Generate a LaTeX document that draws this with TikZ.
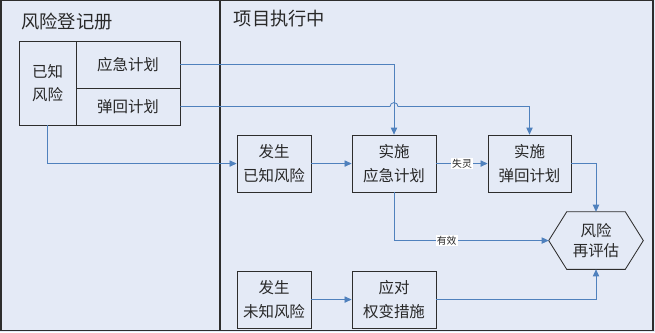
\documentclass[tikz,border=0pt]{standalone}
\usepackage{fontspec}
\newfontfamily\cjk{Noto Sans CJK SC}
\usetikzlibrary{arrows.meta}
\definecolor{bgblue}{RGB}{228,234,246}
\definecolor{lineblue}{RGB}{79,129,189}
\definecolor{edgegray}{RGB}{45,45,45}
\definecolor{textgray}{RGB}{40,40,40}

\begin{document}
\begin{tikzpicture}[x=0.025cm, y=-0.025cm, font=\cjk\fontsize{11}{16.5}\selectfont, text=textgray,
  block/.style={rectangle, draw=edgegray, semithick, minimum width=2.1cm, minimum height=1.425cm,
                align=center, inner sep=1pt},
  cell/.style={rectangle, draw=edgegray, semithick, minimum width=2.6cm, inner sep=0pt},
  flow/.style={draw=lineblue, semithick, -{Triangle[length=5pt,width=4.5pt]}},
  tag/.style={fill=white, inner sep=0.8pt, font=\cjk\fontsize{7}{8}\selectfont},
  title/.style={font=\cjk\fontsize{13}{15}\selectfont}]
  \fill[bgblue] (0,0) rectangle (655,332);
  \draw[edgegray, thick] (1,0.5) rectangle (653,330);
  \draw[edgegray, thick] (220,0.5) -- (220,330);
  \node[title] (regtitle) at (67,21) {风险登记册};
  \node[title] (runtitle) at (279.5,19) {项目执行中};

  \node[block, minimum width=1.425cm, minimum height=2.1cm] (known) at (47.5,83) {已知\\风险};
  \node[cell, minimum height=1.175cm] (cplan) at (128,64.5) {应急计划};
  \node[cell, minimum height=0.925cm] (fplan) at (128,106.5) {弹回计划};

  \node[block, minimum width=1.85cm] (occur) at (274,163.5) {发生\\已知风险};
  \node[block] (contin) at (394,163.5) {实施\\应急计划};
  \node[block, minimum width=2.075cm] (rebound) at (529.5,163.5) {实施\\弹回计划};
  \node[block, minimum width=1.85cm] (unknown) at (274,299.5) {发生\\未知风险};
  \node[block] (workaround) at (394,299.5) {应对\\权变措施};
  \node[minimum width=2.35cm, minimum height=1.425cm, align=center, inner sep=1pt,
        font=\cjk\fontsize{11}{14.5}\selectfont] (reeval) at (596,240.5) {风险\\再评估};
  \draw[edgegray, semithick] (reeval.west) -- ([xshift=0.45cm]reeval.north west)
    -- ([xshift=-0.45cm]reeval.north east) -- (reeval.east)
    -- ([xshift=-0.45cm]reeval.south east) -- ([xshift=0.45cm]reeval.south west) -- cycle;

  \draw[flow] (cplan.east) -| (contin.north);
  \draw[flow] (fplan.east) -- ([xshift=-0.1cm]fplan.east -| contin.north)
    arc[start angle=180, end angle=0, radius=0.1cm] -| (rebound.north);
  \draw[flow] (known.south) |- (occur.west);
  \draw[flow] (occur.east) -- (contin.west);
  \draw[flow] (contin.east) -- node[tag] {失灵} (rebound.west);
  \draw[flow] (rebound.east) -| (reeval.north);
  \draw[flow] (contin.south) |- node[tag, pos=0.67] {有效} (reeval.west);
  \draw[flow] (unknown.east) -- (workaround.west);
  \draw[flow] (workaround.east) -| (reeval.south);
\end{tikzpicture}
\end{document}
